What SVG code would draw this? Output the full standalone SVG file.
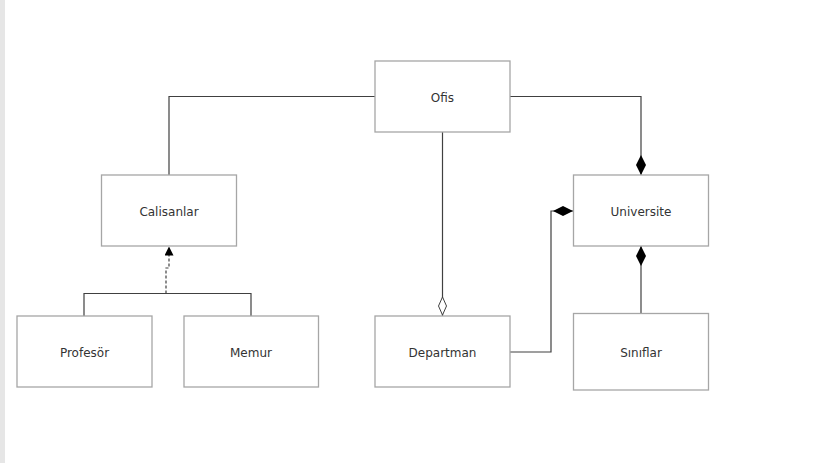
<svg xmlns="http://www.w3.org/2000/svg" width="828" height="463" viewBox="0 0 828 463">
<style>
.box{fill:#fff;stroke:#a6a6a6;stroke-width:1.3}
.lbl{font-family:"DejaVu Sans",Verdana,sans-serif;font-size:12px;fill:#333;text-anchor:middle;dominant-baseline:central}
.ln{fill:none;stroke:#404040;stroke-width:1.2}
.dash{fill:none;stroke:#404040;stroke-width:1.2;stroke-dasharray:3,2}
</style>
<defs>
<marker id="fd" viewBox="0 0 20 10" refX="20" refY="5" markerWidth="20" markerHeight="10" markerUnits="userSpaceOnUse" orient="auto">
<path d="M0,5 L10,0 L20,5 L10,10 Z" fill="#000"/>
</marker>
<marker id="hd" viewBox="0 0 20 10" refX="20" refY="5" markerWidth="20" markerHeight="10" markerUnits="userSpaceOnUse" orient="auto">
<path d="M1,5 L10,1 L19,5 L10,9 Z" fill="#fff" stroke="#404040" stroke-width="1"/>
</marker>
<marker id="tri" viewBox="0 0 10 10" refX="10" refY="5" markerWidth="9" markerHeight="9" markerUnits="userSpaceOnUse" orient="auto">
<path d="M0,0 L10,5 L0,10 Z" fill="#000"/>
</marker>
</defs>
<rect x="0" y="0" width="828" height="463" fill="#fff"/>
<rect x="0" y="0" width="5" height="463" fill="#e6e6e6"/>
<g id="connectors">
<path class="ln" d="M375,96.5 H169 V175"/>
<path class="ln" d="M510,96.5 H641 V175" marker-end="url(#fd)"/>
<path class="ln" d="M442.5,132 V316" marker-end="url(#hd)"/>
<path class="ln" d="M510,352 H551 V211 H573" marker-end="url(#fd)"/>
<path class="ln" d="M641,313 V246" marker-end="url(#fd)"/>
<path class="ln" d="M84,316 V293.5 H251 V316"/>
<path class="dash" d="M166,293.5 V268 H169 V246.5" marker-end="url(#tri)"/>
</g>
<g id="ofis"><rect class="box" x="375" y="61" width="135" height="71"/><text class="lbl" x="442.5" y="97.5">Ofis</text></g>
<g id="calisanlar"><rect class="box" x="101.5" y="175" width="135" height="71"/><text class="lbl" x="169" y="211.5">Calisanlar</text></g>
<g id="universite"><rect class="box" x="573.5" y="175" width="135" height="71"/><text class="lbl" x="641" y="211.5">Universite</text></g>
<g id="profesor"><rect class="box" x="17" y="316" width="135" height="71"/><text class="lbl" x="84.5" y="352.5">Profesör</text></g>
<g id="memur"><rect class="box" x="184" y="316" width="134.5" height="71"/><text class="lbl" x="251" y="352.5">Memur</text></g>
<g id="departman"><rect class="box" x="375" y="316" width="135" height="71"/><text class="lbl" x="442.5" y="352.5">Departman</text></g>
<g id="siniflar"><rect class="box" x="573.5" y="313.5" width="135" height="76.5"/><text class="lbl" x="641" y="352.5">Sınıflar</text></g>
</svg>
